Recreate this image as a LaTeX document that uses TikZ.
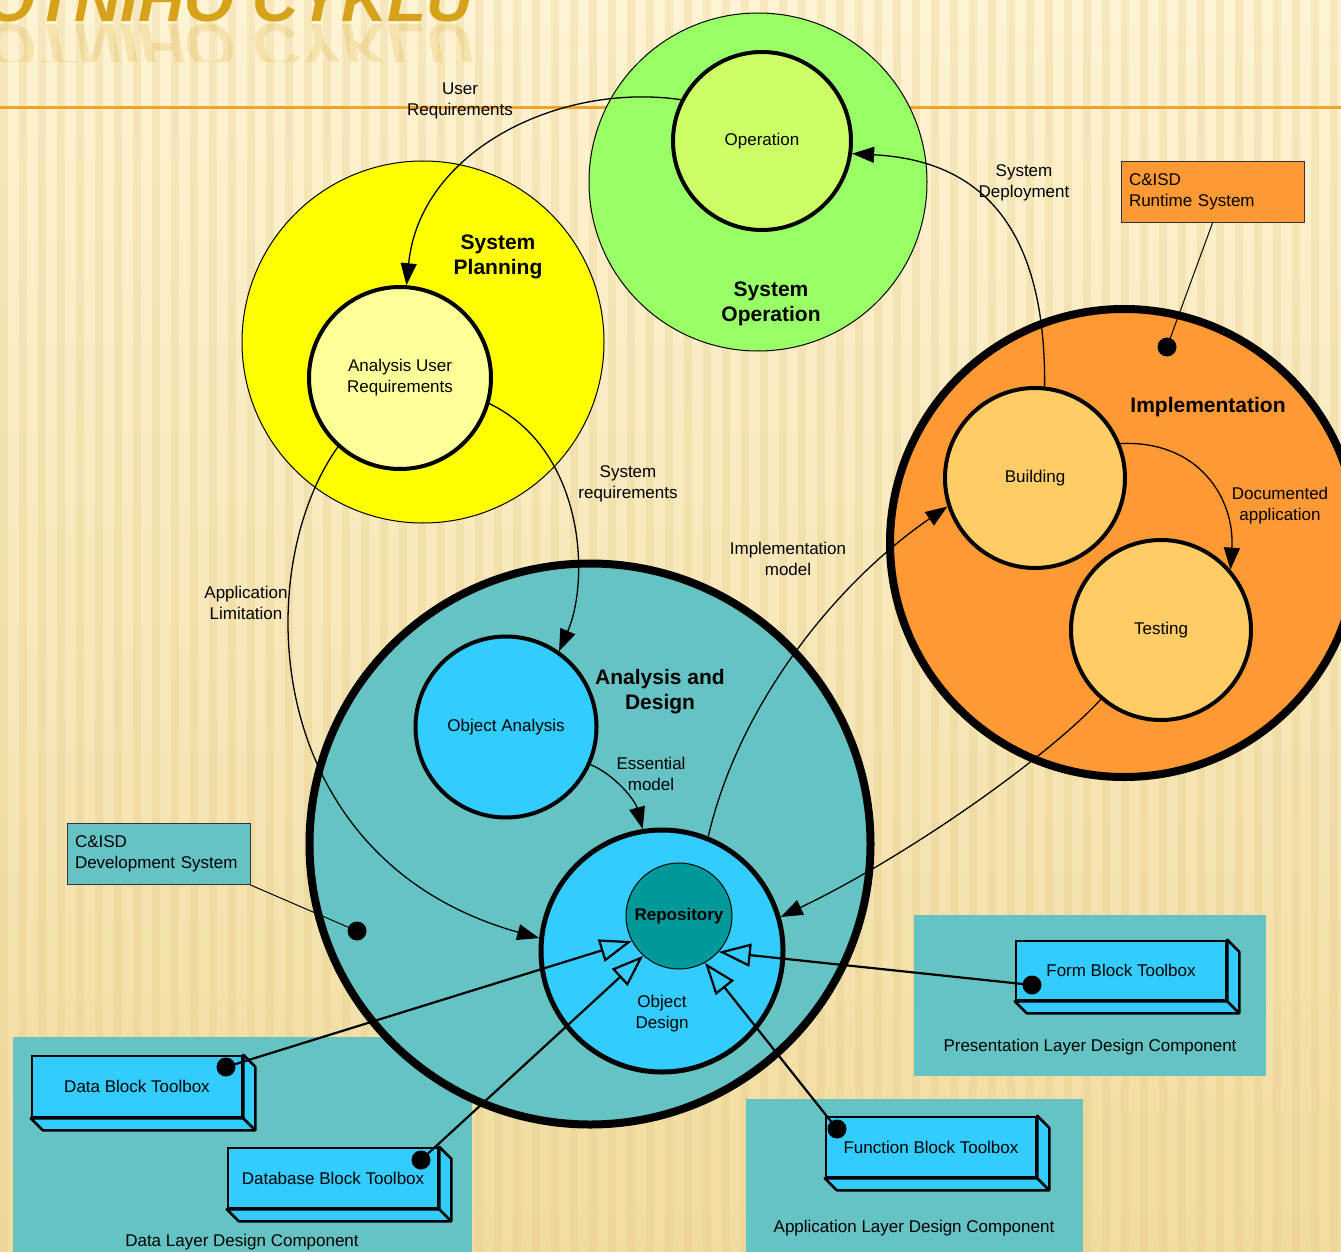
\documentclass[tikz,border=0pt]{standalone}
\usepackage{fontspec}
\setmainfont{Liberation Sans}
\usepackage{graphicx}
\usetikzlibrary{arrows.meta,calc}

\definecolor{bgtop}{HTML}{FEF3D3}
\definecolor{bgbot}{HTML}{F1DCA0}
\definecolor{stripecol}{HTML}{E3C983}
\definecolor{titlegold}{HTML}{D6A21A}
\definecolor{rulecol}{HTML}{F0A12E}
\definecolor{adteal}{HTML}{66C3C4}
\definecolor{objblue}{HTML}{33CCFF}
\definecolor{repocol}{HTML}{009999}
\definecolor{implorange}{HTML}{FF9933}
\definecolor{buildfill}{HTML}{FFCC66}
\definecolor{sysopgreen}{HTML}{99FF66}
\definecolor{opgreen}{HTML}{CCFF66}
\definecolor{planyellow}{HTML}{FFFF00}
\definecolor{auryellow}{HTML}{FFFF99}

\newcommand{\headingtext}{ŽIVOTNÍHO CYKLU}

\begin{document}
\begin{tikzpicture}[x=1pt,y=-1pt,
  txt/.style={font=\fontsize{17}{21}\selectfont, align=center, inner sep=0pt, yshift=-2pt},
  bigtxt/.style={font=\fontsize{21}{25}\selectfont\bfseries, align=center, inner sep=0pt, yshift=-2.5pt},
  headingfont/.style={font=\fontsize{64}{64}\selectfont\bfseries\itshape,
    text=titlegold, anchor=base east, inner sep=0pt},
  zone/.style={circle, draw=black, line width=1pt, inner sep=0pt},
  phase/.style={circle, draw=black, line width=4pt, inner sep=0pt,
    font=\fontsize{17}{21}\selectfont, align=center},
  stage/.style={circle, draw=black, line width=8pt, inner sep=0pt},
  panel/.style={fill=adteal, inner sep=0pt, anchor=north west},
  callout/.style={draw=black!80, line width=1pt, text width=167pt, inner xsep=8pt,
    minimum height=61pt, align=left, font=\fontsize{17}{21}\selectfont},
  tbox/.style={draw=black, fill=objblue, line width=2.5pt, minimum width=210pt,
    inner sep=0pt, font=\fontsize{17}{21}\selectfont},
  tboxside/.style={draw=black, fill=objblue, line width=2.5pt, line join=round},
  blob/.style={circle, fill=black, inner sep=0pt, minimum size=19pt},
  conn/.style={line width=1.3pt, -{Triangle[length=22pt,width=16pt]}},
  gen/.style={line width=2.2pt, -{Triangle[open,length=32pt,width=23pt]}},
  leader/.style={line width=1pt},
]
\useasboundingbox (0,0) rectangle (1341,1252);
\clip (0,0) rectangle (1341,1252);

% background with vertical grain
\shade[top color=bgtop, bottom color=bgbot] (0,0) rectangle (1341,1252);
\foreach \x in {0,19,...,1341}
  \fill[stripecol, opacity=0.28] (\x,0) rectangle ++(8,1252);

% slide heading and its faint reflection
\node[headingfont] (heading) at (473,22) {\headingtext};
\begin{scope}
  \clip (0,23) rectangle (1341,62);
  \node[headingfont, opacity=0.2] (headingrefl) at (473,25)
    {\scalebox{1}[-1]{\headingtext}};
\end{scope}

% heading rule
\draw[rulecol, line width=3pt] (0,108) -- (1341,108);

% design component panels
\node[panel, minimum width=459pt, minimum height=220pt] (datapanel) at (13,1037) {};
\node[panel, minimum width=352pt, minimum height=161pt] (prespanel) at (914,915) {};
\node[panel, minimum width=337pt, minimum height=160pt] (apppanel) at (746,1099) {};
\node[txt] (datalbl) at (242,1240) {Data Layer Design Component};
\node[txt] (preslbl) at (1090,1045) {Presentation Layer Design Component};
\node[txt] (applbl) at (914,1226) {Application Layer Design Component};

% outer zones
\node[zone, fill=sysopgreen, minimum size=338pt] (sysop) at (758,182) {};
\node[zone, fill=planyellow, minimum size=362pt] (plan) at (423,342) {};
\node[stage, fill=implorange, minimum size=468pt] (impl) at (1124,543) {};
\node[stage, fill=adteal, minimum size=561pt] (ad) at (590,844) {};

% zone titles
\node[bigtxt] (sysoplbl) at (771,301) {System\\Operation};
\node[bigtxt] (planlbl) at (498,254) {System\\Planning};
\node[bigtxt] (impllbl) at (1208,405) {Implementation};
\node[bigtxt] (adlbl) at (660,689) {Analysis and\\Design};

% activities
\node[phase, fill=opgreen, minimum size=178pt] (op) at (762,141) {Operation};
\node[phase, fill=auryellow, minimum size=182pt] (aur) at (400,378) {Analysis User\\Requirements};
\node[phase, fill=buildfill, minimum size=180pt] (build) at (1035,478) {Building};
\node[phase, fill=buildfill, minimum size=180pt] (test) at (1161,630) {Testing};
\node[phase, fill=objblue, minimum size=181pt] (oa) at (506,727) {Object Analysis};
\node[phase, fill=objblue, line width=5pt, minimum size=242pt] (od) at (662,951) {};
\node[txt] (odlbl) at (662,1012) {Object\\Design};
\node[circle, draw=black, line width=1pt, fill=repocol, minimum size=106pt,
  inner sep=0pt, font=\fontsize{17}{21}\selectfont\bfseries] (rep) at (679,916) {Repository};

% system callouts
\node[callout, fill=implorange] (rts) at (1212.5,192) {C\&ISD\\Runtime System};
\node[callout, fill=adteal] (dev) at (158.5,854) {C\&ISD\\Development System};
\node[blob] (rtdot) at (1167,347) {};
\node[blob] (devdot) at (357,931) {};
\draw[leader] (rts.south) -- (rtdot);
\draw[leader] (dev.south east) -- (devdot);

% flows between activities
\draw[conn] (op.153) .. controls (560,82) and (420,150) .. (aur.86);
\draw[conn] (build.84) .. controls (1046,220) and (975,160) .. (op.-8);
\draw[conn] (aur.-16) .. controls (585,450) and (590,580) .. (oa.55);
\draw[conn] (aur.-132) .. controls (250,570) and (260,860) .. (od.174);
\draw[conn] (oa.-24) .. controls (615,775) and (635,800) .. (od.99);
\draw[conn] (od.68) .. controls (740,700) and (840,580) .. (build.198);
\draw[conn] (build.22) .. controls (1200,440) and (1235,500) .. (test.41);
\draw[conn] (test.229) .. controls (1050,755) and (910,855) .. (od.16);

% flow labels
\node[txt] (urlbl) at (460,98.5) {User\\Requirements};
\node[txt] (sdlbl) at (1024,181) {System\\Deployment};
\node[txt] (srlbl) at (628,482) {System\\requirements};
\node[txt] (allbl) at (246,601) {Application\\Limitation};
\node[txt] (imlbl) at (788,557) {Implementation\\model};
\node[txt] (emlbl) at (651,772) {Essential\\model};
\node[txt] (dalbl) at (1280,504) {Documented\\application};

% toolboxes
\node[tbox, minimum height=61pt] (dbt) at (137,1086.5) {Data Block Toolbox};
\node[tbox, minimum height=60pt] (dbbt) at (333,1178) {Database Block Toolbox};
\node[tbox, minimum height=59pt] (fmbt) at (1121,970.5) {Form Block Toolbox};
\node[tbox, minimum height=60pt] (fnbt) at (931,1147) {Function Block Toolbox};
\foreach \b in {dbt,dbbt,fmbt,fnbt} {
  \filldraw[tboxside] (\b.south west) -- ++(12,12) -- ($(\b.south east)+(12,12)$)
    -- ($(\b.north east)+(12,12)$) -- (\b.north east) -- (\b.south east) -- cycle;
  \draw[tboxside] (\b.south east) -- ++(12,12);
}

% toolbox dependencies on the repository
\node[blob] (dbdot) at (226,1067) {};
\node[blob] (dbbdot) at (421,1160) {};
\node[blob] (fmdot) at (1032,985) {};
\node[blob] (fndot) at (837,1129) {};
\draw[gen] (dbdot.center) -- (rep.208);
\draw[gen] (dbbdot.center) -- (rep.228);
\draw[gen] (fndot.center) -- (rep.-61);
\draw[gen] (fmdot.center) -- (rep.-42);
\end{tikzpicture}
\end{document}
